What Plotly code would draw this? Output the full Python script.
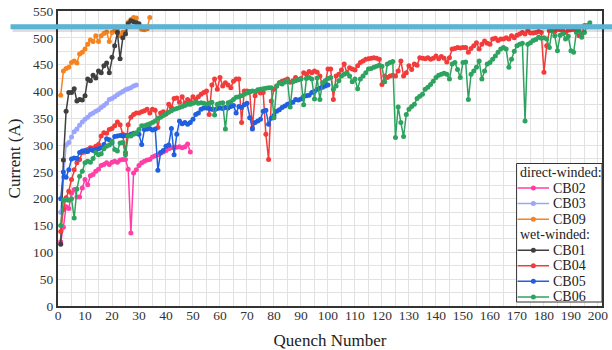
import plotly.graph_objects as go

# Quench current (A) for each quench, in order (quench number = position + 1)
cb02 = [120, 147, 185, 182, 210, 217, 203, 203, 220, 236, 226, 243, 245, 251, 255,
        262, 264, 267, 264, 268, 270, 268, 272, 273, 273, 255, 136, 248, 254, 262,
        267, 270, 272, 273, 278, 280, 282, 285, 287, 290, 293, 295, 296, 296, 297,
        295, 297, 302, 287]

cb03 = [175, 240, 300, 305, 315, 325, 330, 337, 343, 348, 352, 357, 360, 363, 366,
        370, 374, 378, 385, 387, 390, 394, 397, 400, 403, 405, 407, 410, 412]

cb09 = [393, 438, 443, 445, 454, 457, 453, 470, 473, 479, 488, 496, 493, 504, 493,
        504, 508, 511, 493, 510, 513, 513, 504, 510, 511, 529, 534, 538, 537, 523,
        516, 515, 517, 538]

cb01 = [115, 272, 363, 398, 398, 405, 382, 385, 384, 392, 423, 420, 430, 425, 438,
        435, 448, 453, 435, 464, 485, 510, 461, 500, 507, 526, 532, 530, 528, 526]

cb04 = [139, 180, 202, 214, 236, 254, 267, 273, 286, 287, 292, 295, 294, 298, 301,
        317, 323, 322, 329, 331, 336, 343, 338, 320, 286, 338, 352, 357, 360, 360,
        362, 364, 367, 360, 367, 365, 333, 360, 362, 358, 376, 370, 387, 388, 380,
        390, 378, 385, 382, 390, 385, 390, 395, 398, 401, 357, 412, 423, 404, 426,
        410, 416, 412, 407, 419, 423, 423, 342, 401, 401, 400, 332, 392, 401, 397,
        398, 320, 273, 382, 404, 410, 416, 419, 421, 423, 417, 420, 426, 422, 424,
        435, 432, 437, 435, 438, 436, 429, 410, 416, 442, 442, 385, 429, 432, 440,
        451, 435, 444, 442, 440, 448, 454, 457, 460, 461, 462, 463, 462, 460, 413,
        429, 426, 429, 430, 429, 438, 457, 429, 435, 448, 441, 451, 449, 463, 462,
        461, 463, 460, 462, 466, 461, 465, 462, 455, 463, 479, 480, 482, 481, 482,
        482, 473, 480, 485, 491, 479, 488, 494, 490, 488, 498, 499, 495, 498, 498,
        500, 498, 504, 500, 505, 507, 510, 507, 513, 509, 509, 510, 512, 510, 436,
        485, 513, 516, 512, 516, 515, 513, 510, 514, 515, 516, 513, 504, 507, 523]

cb05 = [200, 250, 240, 254, 274, 276, 275, 286, 289, 290, 288, 292, 290, 292, 293,
        295, 301, 312, 310, 304, 316, 317, 318, 317, 318, 318, 320, 322, 322, 320,
        301, 329, 330, 331, 328, 330, 253, 286, 290, 298, 300, 331, 282, 320, 345,
        340, 342, 339, 342, 348, 357, 360, 367, 369, 369, 368, 367, 366, 368, 369,
        368, 370, 369, 372, 374, 360, 372, 370, 375, 378, 351, 330, 342, 345, 348,
        363, 365, 339, 350, 355, 363, 366, 370, 373, 376, 378, 380, 385, 384, 386,
        391, 392, 393, 398, 400, 404, 406, 408, 410, 412]

cb06 = [150, 197, 198, 197, 200, 164, 218, 242, 251, 267, 270, 268, 275, 286, 282,
        284, 293, 298, 300, 307, 292, 289, 304, 305, 282, 317, 317, 320, 323, 329,
        336, 336, 338, 340, 342, 345, 350, 352, 355, 358, 361, 364, 367, 368, 370,
        372, 374, 376, 376, 378, 380, 378, 379, 378, 376, 378, 380, 356, 376, 378,
        379, 330, 379, 381, 385, 389, 390, 392, 395, 397, 399, 401, 400, 403, 404,
        405, 406, 407, 407, 351, 410, 416, 414, 417, 420, 371, 418, 420, 422, 423,
        375, 424, 426, 423, 386, 425, 385, 416, 420, 424, 426, 404, 410, 420, 429,
        432, 434, 429, 418, 423, 405, 423, 429, 435, 442, 443, 445, 447, 449, 447,
        418, 451, 454, 456, 314, 371, 342, 316, 357, 367, 372, 376, 387, 391, 395,
        404, 408, 413, 419, 426, 430, 432, 434, 432, 423, 451, 454, 441, 426, 454,
        455, 385, 432, 438, 445, 457, 423, 438, 451, 454, 460, 466, 473, 479, 482,
        479, 445, 460, 475, 485, 488, 490, 345, 488, 491, 495, 497, 501, 499, 500,
        498, 482, 513, 504, 476, 505, 508, 498, 503, 476, 473, 510, 513, 501, 510,
        523, 528]

x_ticks = list(range(0, 201, 10))
y_ticks = list(range(0, 551, 50))

# legend groups: (header, [(name, values, colour), ...])
groups = [
    ("direct-winded:", [("CB02", cb02, "#ff3fa6"),
                        ("CB03", cb03, "#9ba4ff"),
                        ("CB09", cb09, "#f5841f")]),
    ("wet-winded:", [("CB01", cb01, "#3f3f3f"),
                     ("CB04", cb04, "#f23b3b"),
                     ("CB05", cb05, "#1f5fe0"),
                     ("CB06", cb06, "#2ea35f")]),
]

FONT = "Liberation Serif"
W, H = 612, 350
L, R, T, B = 57.5, 602, 11, 306   # plot area in pixels


def px(xp):
    return (xp - L) / (R - L)


def py(yp):
    return (B - yp) / (B - T)


fig = go.Figure()
for _, members in groups:
    for name, ys, color in members:
        fig.add_trace(go.Scatter(
            x=list(range(1, len(ys) + 1)), y=ys, mode="lines+markers", name=name,
            line=dict(color=color, width=1.5),
            marker=dict(size=5, color=color),
            showlegend=False,
        ))

shapes = []
annotations = []

# highlight bar across the top of the chart, with its soft shadow
shapes.append(dict(type="line", xref="paper", yref="paper",
                   x0=px(12), x1=px(625), y0=py(30.5), y1=py(30.5),
                   line=dict(color="rgba(0,0,0,0.13)", width=3)))
shapes.append(dict(type="line", xref="paper", yref="paper",
                   x0=px(10), x1=px(625), y0=py(26.7), y1=py(26.7),
                   line=dict(color="#5cb3d4", width=5)))

# legend box
shapes.append(dict(type="rect", xref="paper", yref="paper",
                   x0=px(516.5), x1=px(602), y0=py(302), y1=py(163.5),
                   line=dict(color="#333333", width=1), fillcolor="white"))

row_y = 172.5
for header, members in groups:
    annotations.append(dict(xref="paper", yref="paper", x=px(517.5), y=py(row_y),
                            text=header, showarrow=False, xanchor="left",
                            yanchor="middle", font=dict(family=FONT, size=14, color="#222")))
    row_y += 15.55
    for name, _, color in members:
        shapes.append(dict(type="line", xref="paper", yref="paper",
                           x0=px(517.5), x1=px(549), y0=py(row_y), y1=py(row_y),
                           line=dict(color=color, width=1.5)))
        shapes.append(dict(type="circle", xref="paper", yref="paper",
                           xsizemode="pixel", ysizemode="pixel",
                           xanchor=px(533.3), yanchor=py(row_y),
                           x0=-2.5, x1=2.5, y0=-2.5, y1=2.5,
                           line=dict(color=color, width=0), fillcolor=color))
        annotations.append(dict(xref="paper", yref="paper", x=px(551), y=py(row_y),
                                text=name, showarrow=False, xanchor="left",
                                yanchor="middle",
                                font=dict(family=FONT, size=14, color="#222")))
        row_y += 15.55

grid = "#e2e2e2"
tick_font = dict(family=FONT, size=13.5, color="#333")
fig.update_layout(
    width=W, height=H,
    margin=dict(l=L, r=W - R, t=T, b=H - B),
    paper_bgcolor="white", plot_bgcolor="white",
    font=dict(family=FONT, size=13, color="#333"),
    shapes=shapes, annotations=annotations,
    showlegend=False,
    xaxis=dict(
        range=[0, 201.5], tickmode="array", tickvals=x_ticks,
        ticktext=[str(v) for v in x_ticks], automargin=False,
        showgrid=True, gridcolor=grid, gridwidth=1, zeroline=False,
        minor=dict(dtick=5, showgrid=True, gridcolor=grid, gridwidth=1),
        showline=True, linecolor="#333", linewidth=2, mirror=True,
        ticks="", tickfont=tick_font, ticklabelstandoff=-4,
        title=dict(text="Quench Number",
                   font=dict(family=FONT, size=17, color="#222"), standoff=18),
    ),
    yaxis=dict(
        range=[0, 550], tickmode="array", tickvals=y_ticks,
        ticktext=[str(v) for v in y_ticks], automargin=False,
        showgrid=True, gridcolor=grid, gridwidth=1, zeroline=False,
        minor=dict(dtick=25, showgrid=True, gridcolor=grid, gridwidth=1),
        showline=True, linecolor="#333", linewidth=2, mirror=True,
        ticks="", tickfont=tick_font,
        title=dict(text="Current (A)",
                   font=dict(family=FONT, size=17, color="#222"), standoff=8),
    ),
)

fig.write_html("out.html")
